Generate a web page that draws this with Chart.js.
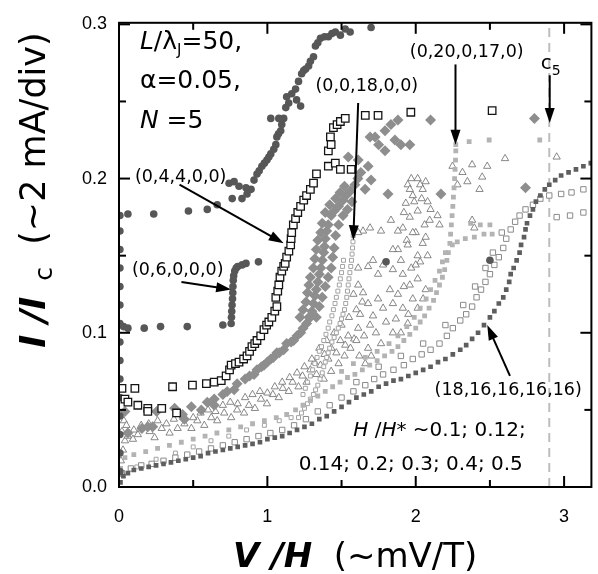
<!DOCTYPE html>
<html>
<head>
<meta charset="utf-8">
<script src="https://cdn.jsdelivr.net/npm/chart.js@4.4.0/dist/chart.umd.min.js"></script>
<style>
    html, body { margin: 0; padding: 0; background: #fff; }
</style>
</head>
<body>
<canvas id="ivChart" width="598" height="574"></canvas>
<script>
// --- Data: [V/H, I/Ic] pairs ---

// dark gray filled circles, incl. (0,6,0,0,0) branch
const darkCircles = [
    [0.006, 0.010], [0.006, 0.022], [0.006, 0.034], [0.006, 0.046], [0.006, 0.058], [0.006, 0.070],
    [0.006, 0.082], [0.006, 0.094], [0.006, 0.106], [0.006, 0.118], [0.006, 0.130], [0.006, 0.142],
    [0.006, 0.154], [0.006, 0.166], [0.006, 0.176],
    [0.03, 0.104], [0.06, 0.103], [0.17, 0.103], [0.28, 0.104], [0.46, 0.104], [0.70, 0.105],
    [0.756, 0.106], [0.758, 0.110], [0.760, 0.114], [0.762, 0.118], [0.765, 0.122], [0.767, 0.126],
    [0.768, 0.130], [0.770, 0.134], [0.773, 0.137], [0.780, 0.140], [0.79, 0.142], [0.80, 0.143],
    [0.83, 0.144], [0.856, 0.145], [0.94, 0.146],
    [0.06, 0.177], [0.234, 0.177], [0.468, 0.179], [0.595, 0.180], [0.662, 0.183],
    [0.742, 0.197], [0.776, 0.198], [0.809, 0.195], [0.856, 0.194], [0.763, 0.187], [0.829, 0.187],
    [0.863, 0.190], [0.89, 0.193], [0.91, 0.199], [0.93, 0.203], [0.945, 0.205], [0.963, 0.208],
    [0.98, 0.210], [0.997, 0.212], [1.01, 0.214], [1.023, 0.216], [1.043, 0.219], [1.057, 0.222],
    [1.064, 0.227], [1.075, 0.229], [1.09, 0.231], [1.097, 0.235], [1.11, 0.239], [1.077, 0.239],
    [1.023, 0.239], [1.124, 0.246], [1.144, 0.249], [1.13, 0.253], [1.164, 0.255], [1.19, 0.258],
    [1.197, 0.251], [1.224, 0.247], [1.21, 0.263], [1.231, 0.268], [1.245, 0.270], [1.258, 0.271],
    [1.278, 0.273], [1.29, 0.276], [1.311, 0.279], [1.324, 0.286], [1.34, 0.288], [1.358, 0.291],
    [1.385, 0.292], [1.411, 0.292], [1.435, 0.294], [1.458, 0.295], [1.525, 0.297], [1.492, 0.293],
    [1.558, 0.295], [1.699, 0.298],
    [1.80, 0.146], [2.50, 0.147]
];

// black open squares, (0,4,4,0,0)
const blackSquares = [
    [0.02, 0.064], [0.04, 0.057], [0.06, 0.055], [0.107, 0.064], [0.127, 0.053], [0.194, 0.051],
    [0.194, 0.049], [0.288, 0.051], [0.388, 0.048], [0.361, 0.065], [0.495, 0.066], [0.589, 0.067],
    [0.642, 0.068], [0.689, 0.069], [0.722, 0.072], [0.745, 0.076], [0.756, 0.079], [0.785, 0.080],
    [0.809, 0.081], [0.84, 0.083], [0.863, 0.085], [0.88, 0.088], [0.896, 0.091], [0.915, 0.093],
    [0.93, 0.095], [0.955, 0.098], [0.977, 0.102], [0.995, 0.105], [1.01, 0.107], [1.03, 0.110],
    [1.05, 0.114], [1.064, 0.117], [1.057, 0.123], [1.07, 0.127], [1.077, 0.131], [1.085, 0.136],
    [1.097, 0.140], [1.11, 0.143], [1.12, 0.145], [1.13, 0.149], [1.145, 0.153], [1.157, 0.157],
    [1.16, 0.161], [1.164, 0.165], [1.175, 0.170], [1.19, 0.174], [1.205, 0.178], [1.224, 0.182],
    [1.245, 0.186], [1.264, 0.189], [1.29, 0.193], [1.311, 0.197], [1.331, 0.203], [1.411, 0.208],
    [1.458, 0.210], [1.492, 0.206], [1.411, 0.218], [1.425, 0.227], [1.43, 0.222], [1.445, 0.233],
    [1.47, 0.235], [1.492, 0.237], [1.525, 0.239], [1.565, 0.206], [1.66, 0.241], [1.746, 0.241],
    [1.967, 0.243], [2.515, 0.244]
];

// medium gray filled diamonds
const grayDiamonds = [
    [0.04, 0.049], [0.06, 0.035], [0.154, 0.038], [0.194, 0.039], [0.227, 0.039], [0.254, 0.049],
    [0.375, 0.051], [0.428, 0.047], [0.441, 0.044], [0.488, 0.052], [0.555, 0.050], [0.595, 0.055],
    [0.642, 0.053], [0.642, 0.057], [0.70, 0.060], [0.729, 0.062], [0.776, 0.063], [0.796, 0.067],
    [0.85, 0.070], [0.88, 0.072], [0.91, 0.073], [0.93, 0.076], [0.96, 0.078], [0.977, 0.079],
    [1.0, 0.081], [1.023, 0.083], [1.04, 0.084], [1.064, 0.087], [1.08, 0.087], [1.11, 0.089],
    [1.13, 0.093], [1.16, 0.094], [1.177, 0.095], [1.20, 0.098], [1.224, 0.100], [1.24, 0.103],
    [1.264, 0.106], [1.28, 0.110], [1.29, 0.110], [1.30, 0.114], [1.31, 0.119], [1.32, 0.124],
    [1.33, 0.128], [1.34, 0.133], [1.35, 0.138], [1.36, 0.142], [1.37, 0.147], [1.38, 0.152],
    [1.385, 0.156], [1.39, 0.161], [1.40, 0.166], [1.41, 0.170], [1.43, 0.176], [1.45, 0.179],
    [1.48, 0.182], [1.51, 0.186], [1.53, 0.189], [1.56, 0.192], [1.59, 0.196], [1.61, 0.200],
    [1.63, 0.204],
    [1.22, 0.110], [1.24, 0.115], [1.26, 0.120], [1.27, 0.126], [1.28, 0.131], [1.29, 0.136],
    [1.31, 0.142], [1.32, 0.148], [1.33, 0.154], [1.34, 0.160], [1.36, 0.165], [1.37, 0.171],
    [1.39, 0.178], [1.42, 0.183], [1.46, 0.187], [1.49, 0.191], [1.52, 0.195],
    [1.33, 0.110], [1.35, 0.117], [1.37, 0.123], [1.39, 0.130], [1.41, 0.136], [1.43, 0.142],
    [1.44, 0.149], [1.45, 0.155], [1.46, 0.163], [1.48, 0.170], [1.51, 0.176], [1.54, 0.180],
    [1.57, 0.185],
    [1.612, 0.212], [1.679, 0.208], [1.699, 0.199], [1.659, 0.193], [1.813, 0.190], [1.545, 0.214],
    [1.726, 0.227], [1.793, 0.231], [1.833, 0.235], [1.88, 0.238], [1.86, 0.225], [1.90, 0.222],
    [1.96, 0.222], [1.793, 0.218], [1.692, 0.227], [1.75, 0.222], [2.10, 0.238], [2.17, 0.190],
    [2.74, 0.194], [2.80, 0.239]
];

// light gray small open squares, (0,0,18,0,0)
const lightSmallSquares = [
    [0.02, 0.008], [0.12, 0.013], [0.25, 0.018], [0.38, 0.022], [0.50, 0.026], [0.62, 0.030],
    [0.74, 0.033], [0.86, 0.037], [0.98, 0.040], [1.08, 0.043], [1.16, 0.045],
    [1.21, 0.045], [1.23, 0.048], [1.25, 0.051], [1.27, 0.054], [1.29, 0.057], [1.31, 0.060],
    [1.325, 0.063], [1.34, 0.066], [1.355, 0.070], [1.37, 0.074], [1.38, 0.078], [1.39, 0.081],
    [1.40, 0.084], [1.41, 0.087], [1.42, 0.090], [1.435, 0.094], [1.45, 0.097], [1.465, 0.100],
    [1.478, 0.103], [1.49, 0.106], [1.50, 0.109], [1.51, 0.112], [1.52, 0.115], [1.528, 0.119],
    [1.535, 0.123], [1.54, 0.127], [1.545, 0.131], [1.55, 0.135], [1.556, 0.139], [1.562, 0.143],
    [1.567, 0.147], [1.571, 0.151], [1.574, 0.155], [1.577, 0.159], [1.579, 0.163],
    [1.24, 0.060], [1.256, 0.064], [1.27, 0.068], [1.29, 0.072], [1.305, 0.076], [1.32, 0.080],
    [1.335, 0.084], [1.35, 0.088], [1.365, 0.091], [1.38, 0.095], [1.395, 0.099], [1.41, 0.103],
    [1.42, 0.107], [1.435, 0.111], [1.445, 0.115], [1.456, 0.119], [1.465, 0.123], [1.475, 0.127],
    [1.485, 0.131], [1.492, 0.135], [1.50, 0.139], [1.507, 0.143], [1.513, 0.147]
];

// open triangles
const openTriangles = [
    [0.013, 0.017], [0.027, 0.024], [0.02, 0.036], [0.033, 0.043], [0.04, 0.030], [0.06, 0.033],
    [0.094, 0.031], [0.127, 0.034], [0.207, 0.036], [0.24, 0.032], [0.288, 0.038], [0.341, 0.035],
    [0.395, 0.038], [0.441, 0.041], [0.488, 0.038], [0.528, 0.043], [0.575, 0.040], [0.622, 0.045],
    [0.662, 0.043], [0.709, 0.048], [0.756, 0.045], [0.796, 0.050], [0.843, 0.048], [0.876, 0.053],
    [0.916, 0.051], [0.957, 0.057], [0.997, 0.054], [1.037, 0.060], [1.077, 0.058], [1.104, 0.064],
    [1.144, 0.062], [1.17, 0.068], [1.21, 0.065], [1.237, 0.072], [1.264, 0.068], [1.29, 0.076],
    [1.331, 0.073], [1.318, 0.081], [1.358, 0.079], [1.385, 0.086], [1.411, 0.083], [1.431, 0.090],
    [1.465, 0.087], [1.492, 0.095], [1.525, 0.092], [1.545, 0.098], [1.585, 0.096],
    [0.05, 0.040], [0.10, 0.037], [0.15, 0.040], [0.20, 0.041], [0.26, 0.043], [0.32, 0.041],
    [0.37, 0.044], [0.43, 0.046], [0.50, 0.045], [0.55, 0.048], [0.60, 0.050], [0.65, 0.049],
    [0.70, 0.053], [0.75, 0.055], [0.80, 0.054], [0.85, 0.058], [0.90, 0.060], [0.95, 0.062],
    [1.00, 0.061], [1.05, 0.065], [1.10, 0.068], [1.15, 0.071], [1.20, 0.074], [1.25, 0.078],
    [1.30, 0.083], [1.35, 0.090], [1.40, 0.095], [1.45, 0.100], [1.50, 0.105], [1.38, 0.070],
    [1.43, 0.075], [1.48, 0.080], [1.52, 0.085], [1.56, 0.090], [1.60, 0.095], [1.62, 0.085],
    [1.66, 0.080], [1.70, 0.085], [1.55, 0.110], [1.60, 0.115], [1.64, 0.120], [1.58, 0.125],
    [1.612, 0.131], [1.645, 0.126], [1.679, 0.119], [1.625, 0.112], [1.712, 0.111], [1.746, 0.122],
    [1.78, 0.116], [1.692, 0.105], [1.732, 0.100], [1.80, 0.107], [1.652, 0.098], [1.612, 0.103],
    [1.846, 0.119], [1.826, 0.128], [1.88, 0.125], [1.746, 0.138], [1.679, 0.143], [1.612, 0.142],
    [1.712, 0.147], [1.78, 0.144], [1.846, 0.141], [1.913, 0.138], [1.96, 0.131], [2.013, 0.135],
    [2.067, 0.128], [1.98, 0.122], [1.913, 0.116], [1.866, 0.109], [2.013, 0.116], [1.946, 0.106],
    [1.846, 0.100], [1.766, 0.093], [1.679, 0.090], [1.90, 0.100], [1.95, 0.112], [2.05, 0.122],
    [1.92, 0.130], [1.97, 0.142], [2.03, 0.146], [2.08, 0.150], [1.90, 0.147], [1.94, 0.160],
    [2.00, 0.165], [2.06, 0.170], [2.10, 0.180], [1.99, 0.185], [2.04, 0.187], [1.92, 0.178],
    [1.97, 0.200], [2.03, 0.196],
    [1.88, 0.154], [1.946, 0.157], [2.013, 0.150], [2.047, 0.158], [1.98, 0.165], [1.913, 0.168],
    [1.96, 0.175], [2.013, 0.179], [1.933, 0.184], [1.98, 0.189], [2.047, 0.193], [1.946, 0.196],
    [2.013, 0.200], [2.067, 0.198], [2.08, 0.185], [2.094, 0.173], [2.067, 0.162], [2.0, 0.144],
    [1.846, 0.154], [1.88, 0.166], [1.833, 0.173], [1.692, 0.168], [1.645, 0.166], [1.766, 0.166],
    [1.612, 0.165], [2.147, 0.176], [2.16, 0.170], [2.38, 0.173], [2.395, 0.168],
    [2.248, 0.208], [2.315, 0.204], [2.38, 0.209], [2.448, 0.201], [2.348, 0.198], [2.281, 0.196],
    [2.482, 0.208], [2.602, 0.213], [2.95, 0.214], [1.96, 0.193], [2.43, 0.193]
];

// light gray filled squares, (0,20,0,17,0)
const lightFilledSquares = [
    [0.01, 0.012], [0.04, 0.019], [0.10, 0.021], [0.18, 0.023], [0.26, 0.025], [0.34, 0.027],
    [0.42, 0.029], [0.50, 0.031], [0.58, 0.033], [0.66, 0.035], [0.74, 0.037], [0.82, 0.039],
    [0.90, 0.041], [0.98, 0.043], [1.06, 0.045], [1.13, 0.047], [1.19, 0.050], [1.24, 0.053],
    [1.29, 0.056], [1.34, 0.059], [1.39, 0.062], [1.44, 0.065], [1.49, 0.068], [1.54, 0.071],
    [1.59, 0.073], [1.64, 0.076], [1.69, 0.079], [1.74, 0.082], [1.79, 0.085], [1.84, 0.088],
    [1.88, 0.091], [1.92, 0.095], [1.96, 0.099], [2.00, 0.103], [2.03, 0.107], [2.06, 0.111],
    [2.09, 0.116], [2.12, 0.121], [2.14, 0.126], [2.16, 0.131], [2.18, 0.136], [2.195, 0.141],
    [2.21, 0.147], [2.22, 0.152], [2.23, 0.158], [2.235, 0.164], [2.24, 0.170], [2.245, 0.176],
    [2.25, 0.182], [2.254, 0.188], [2.258, 0.194], [2.262, 0.200], [2.265, 0.206], [2.268, 0.212],
    [2.27, 0.218], [2.27, 0.222],
    [1.50, 0.075], [1.58, 0.080], [1.66, 0.084], [1.74, 0.088], [1.82, 0.093], [1.88, 0.098],
    [1.94, 0.104], [1.99, 0.110], [2.03, 0.116], [2.07, 0.122], [2.10, 0.128], [2.13, 0.134],
    [2.16, 0.140], [2.18, 0.146], [2.20, 0.152],
    [2.36, 0.224], [2.495, 0.225], [2.836, 0.225],
    [2.247, 0.157], [2.28, 0.159], [2.334, 0.161], [2.395, 0.162], [2.46, 0.164], [2.515, 0.164],
    [2.435, 0.170], [2.50, 0.170], [2.37, 0.171]
];

// light gray open squares
const grayOpenSquares = [
    [0.02, 0.009], [0.08, 0.012], [0.15, 0.014], [0.22, 0.015], [0.30, 0.017], [0.38, 0.019],
    [0.46, 0.021], [0.54, 0.023], [0.62, 0.025], [0.70, 0.027], [0.78, 0.029], [0.86, 0.031],
    [0.94, 0.033], [1.02, 0.035], [1.10, 0.037], [1.18, 0.040], [1.26, 0.044], [1.34, 0.049],
    [1.42, 0.053], [1.50, 0.058], [1.58, 0.062], [1.66, 0.066], [1.72, 0.070], [1.78, 0.073],
    [1.85, 0.076], [1.92, 0.079], [1.98, 0.083], [2.04, 0.086], [2.10, 0.089], [2.16, 0.093],
    [2.21, 0.098], [2.25, 0.103], [2.30, 0.108], [2.34, 0.112], [2.38, 0.117], [2.41, 0.123],
    [2.44, 0.128], [2.47, 0.133], [2.50, 0.138], [2.53, 0.144], [2.56, 0.149], [2.59, 0.155],
    [2.61, 0.161], [2.64, 0.167], [2.67, 0.172], [2.70, 0.176], [2.74, 0.180], [2.79, 0.183],
    [2.84, 0.187], [2.90, 0.189], [2.98, 0.190], [3.05, 0.191], [3.13, 0.193],
    [1.60, 0.068], [1.75, 0.078], [1.90, 0.085], [2.05, 0.093], [2.20, 0.105], [2.32, 0.118],
    [2.40, 0.130], [2.47, 0.142], [2.52, 0.152], [2.58, 0.165], [2.95, 0.175], [3.04, 0.176],
    [3.13, 0.178]
];

// dark gray filled squares, (18,16,16,16,16)
const darkSquares = [
    [0.01, 0.003], [0.03, 0.007], [0.06, 0.009], [0.10, 0.011], [0.15, 0.012], [0.20, 0.013],
    [0.25, 0.014], [0.30, 0.015], [0.35, 0.016], [0.40, 0.017], [0.45, 0.018], [0.50, 0.019],
    [0.55, 0.020], [0.60, 0.022], [0.65, 0.023], [0.70, 0.024], [0.75, 0.025], [0.80, 0.026],
    [0.85, 0.027], [0.90, 0.028], [0.95, 0.029], [1.00, 0.031], [1.05, 0.032], [1.10, 0.033],
    [1.15, 0.035], [1.20, 0.037], [1.25, 0.039], [1.30, 0.041], [1.35, 0.044], [1.40, 0.046],
    [1.45, 0.049], [1.50, 0.052], [1.55, 0.055], [1.60, 0.058], [1.65, 0.060], [1.70, 0.062],
    [1.75, 0.065], [1.80, 0.067], [1.85, 0.069], [1.90, 0.070], [1.95, 0.072], [2.00, 0.074],
    [2.05, 0.076], [2.10, 0.078], [2.15, 0.081], [2.20, 0.083], [2.25, 0.086], [2.30, 0.089],
    [2.34, 0.092], [2.38, 0.096], [2.42, 0.100], [2.46, 0.105], [2.50, 0.110], [2.53, 0.114],
    [2.56, 0.119], [2.59, 0.123], [2.61, 0.128], [2.63, 0.133], [2.64, 0.138], [2.66, 0.142],
    [2.68, 0.147], [2.70, 0.152], [2.71, 0.157], [2.73, 0.162], [2.74, 0.167], [2.75, 0.171],
    [2.77, 0.176], [2.79, 0.180], [2.81, 0.185], [2.84, 0.189], [2.87, 0.193], [2.90, 0.196],
    [2.94, 0.199], [2.98, 0.202], [3.03, 0.204], [3.08, 0.206], [3.13, 0.208], [3.18, 0.210]
];

const xTicksMajor = [0, 1, 2, 3];
const xTicksMinor = [0.5, 1.5, 2.5];
const yTicksMajor = [0, 0.1, 0.2, 0.3];
const yTicksMinor = [0.05, 0.15, 0.25];
const c5Position = 2.90;

// --- helpers ---
const toPts = arr => arr.map(p => ({ x: p[0], y: p[1] }));

function drawRuns(ctx, x, y, runs) {
    let cx = x;
    runs.forEach(r => {
        ctx.font = r.font;
        ctx.fillText(r.t, cx, y + (r.dy || 0));
        cx += ctx.measureText(r.t).width;
    });
}

function runsWidth(ctx, runs) {
    return runs.reduce((w, r) => { ctx.font = r.font; return w + ctx.measureText(r.t).width; }, 0);
}

function arrow(ctx, x1, y1, x2, y2) {
    const a = Math.atan2(y2 - y1, x2 - x1);
    ctx.beginPath();
    ctx.moveTo(x1, y1);
    ctx.lineTo(x2 - 10 * Math.cos(a), y2 - 10 * Math.sin(a));
    ctx.stroke();
    ctx.beginPath();
    ctx.moveTo(x2, y2);
    ctx.lineTo(x2 - 15 * Math.cos(a) + 5 * Math.sin(a), y2 - 15 * Math.sin(a) - 5 * Math.cos(a));
    ctx.lineTo(x2 - 15 * Math.cos(a) - 5 * Math.sin(a), y2 - 15 * Math.sin(a) + 5 * Math.cos(a));
    ctx.closePath();
    ctx.fill();
}

const SANS = '"DejaVu Sans", sans-serif';

// --- plugin: frame, inward ticks, c5 line, annotations, axis titles ---
const figureDecor = {
    id: 'figureDecor',
    beforeDatasetsDraw(chart) {
        const { ctx, chartArea: a, scales: { x } } = chart;
        const px = x.getPixelForValue(c5Position);
        ctx.save();
        ctx.strokeStyle = '#bdbdbd';
        ctx.lineWidth = 2;
        ctx.setLineDash([9, 6]);
        ctx.beginPath();
        ctx.moveTo(px, a.bottom);
        ctx.lineTo(px, a.top);
        ctx.stroke();
        ctx.restore();
    },
    afterDatasetsDraw(chart) {
        const { ctx, chartArea: a, scales: { x, y } } = chart;
        const X = v => x.getPixelForValue(v);
        const Y = v => y.getPixelForValue(v);
        ctx.save();
        ctx.strokeStyle = '#000';
        ctx.fillStyle = '#000';
        ctx.lineWidth = 2;
        ctx.strokeRect(a.left, a.top, a.right - a.left, a.bottom - a.top);

        const tick = (x1, y1, x2, y2) => { ctx.beginPath(); ctx.moveTo(x1, y1); ctx.lineTo(x2, y2); ctx.stroke(); };
        xTicksMajor.forEach(v => { tick(X(v), a.bottom, X(v), a.bottom - 11); tick(X(v), a.top, X(v), a.top + 11); });
        xTicksMinor.forEach(v => { tick(X(v), a.bottom, X(v), a.bottom - 7); tick(X(v), a.top, X(v), a.top + 7); });
        yTicksMajor.forEach(v => { tick(a.left, Y(v), a.left + 11, Y(v)); tick(a.right, Y(v), a.right - 11, Y(v)); });
        yTicksMinor.forEach(v => { tick(a.left, Y(v), a.left + 7, Y(v)); tick(a.right, Y(v), a.right - 7, Y(v)); });

        // arrows
        arrow(ctx, X(0.408), Y(0.196), X(1.11), Y(0.158));
        arrow(ctx, X(0.421), Y(0.133), X(0.756), Y(0.128));
        arrow(ctx, X(1.612), Y(0.249), X(1.579), Y(0.160));
        arrow(ctx, X(2.268), Y(0.274), X(2.268), Y(0.222));
        arrow(ctx, X(2.903), Y(0.267), X(2.903), Y(0.236));
        arrow(ctx, X(2.635), Y(0.072), X(2.482), Y(0.105));

        // annotations
        ctx.textBaseline = 'alphabetic';
        ctx.textAlign = 'left';
        const big = '25px ' + SANS, bigIt = 'italic 25px ' + SANS;
        drawRuns(ctx, X(0.141), Y(0.2838), [
            { t: 'L', font: bigIt }, { t: '/λ', font: big },
            { t: 'J', font: '15px ' + SANS, dy: 6 }, { t: '=50,', font: big }
        ]);
        drawRuns(ctx, X(0.141), Y(0.2584), [{ t: 'α=0.05,', font: big }]);
        drawRuns(ctx, X(0.141), Y(0.2330), [{ t: 'N', font: bigIt }, { t: ' =5', font: big }]);

        const lab = '17.5px ' + SANS;
        drawRuns(ctx, X(0.107), Y(0.1975), [{ t: '(0,4,4,0,0)', font: lab }]);
        drawRuns(ctx, X(0.087), Y(0.1375), [{ t: '(0,6,0,0,0)', font: lab }]);
        drawRuns(ctx, X(1.324), Y(0.2565), [{ t: '(0,0,18,0,0)', font: lab }]);
        drawRuns(ctx, X(1.96), Y(0.2787), [{ t: '(0,20,0,17,0)', font: lab }]);
        drawRuns(ctx, X(2.127), Y(0.0597), [{ t: '(18,16,16,16,16)', font: lab }]);
        drawRuns(ctx, X(2.843), Y(0.2711), [
            { t: 'c', font: '20px ' + SANS }, { t: '5', font: '14px ' + SANS, dy: 6 }
        ]);
        const note = '20px ' + SANS, noteIt = 'italic 20px ' + SANS;
        drawRuns(ctx, X(1.579), Y(0.0330), [
            { t: 'H', font: noteIt }, { t: ' /', font: note }, { t: 'H*', font: noteIt },
            { t: ' ~0.1; 0.12;', font: note }
        ]);
        drawRuns(ctx, X(1.211), Y(0.0108), [{ t: '0.14; 0.2; 0.3; 0.4; 0.5', font: note }]);
        ctx.restore();
    },
    afterDraw(chart) {
        const { ctx, chartArea: a } = chart;
        ctx.save();
        ctx.fillStyle = '#000';
        ctx.textBaseline = 'alphabetic';
        ctx.textAlign = 'left';
        const bi = 'bold italic 34px ' + SANS, rg = '34px ' + SANS;

        const xRuns = [{ t: 'V /H', font: bi }, { t: '  (~mV/T)', font: rg }];
        const xw = runsWidth(ctx, xRuns);
        drawRuns(ctx, (a.left + a.right) / 2 - xw / 2, 567, xRuns);

        const yb = 'bold italic 35px ' + SANS, yr = '35px ' + SANS;
        const yRuns = [
            { t: 'I /I', font: yb }, { t: '  c', font: '25px ' + SANS, dy: 7 },
            { t: '  (~2 mA/div)', font: yr }
        ];
        const yw = runsWidth(ctx, yRuns);
        ctx.translate(45, 190);
        ctx.rotate(-Math.PI / 2);
        drawRuns(ctx, -yw / 2, 0, yRuns);
        ctx.restore();
    }
};

function series(data, style) {
    return Object.assign({ data: toPts(data), showLine: false, pointHoverRadius: 0 }, style);
}

document.addEventListener('DOMContentLoaded', function () {
    const ctx = document.getElementById('ivChart').getContext('2d');
    new Chart(ctx, {
        type: 'scatter',
        data: {
            datasets: [
                series(blackSquares, { pointStyle: 'rect', pointRadius: 5.3, backgroundColor: '#fff', borderColor: '#151515', borderWidth: 1.3 }),
                series(darkCircles, { pointStyle: 'circle', pointRadius: 3.8, backgroundColor: '#575757', borderWidth: 0 }),
                series(darkSquares, { pointStyle: 'rect', pointRadius: 3.3, backgroundColor: '#5e5e5e', borderWidth: 0 }),
                series(grayOpenSquares, { pointStyle: 'rect', pointRadius: 3.8, backgroundColor: '#fff', borderColor: '#8a8a8a', borderWidth: 1 }),
                series(lightFilledSquares, { pointStyle: 'rect', pointRadius: 3.4, backgroundColor: '#b3b3b3', borderWidth: 0 }),
                series(lightSmallSquares, { pointStyle: 'rect', pointRadius: 2.8, backgroundColor: '#fff', borderColor: '#a3a3a3', borderWidth: 1 }),
                series(grayDiamonds, { pointStyle: 'rectRot', pointRadius: 5.5, backgroundColor: '#8e8e8e', borderWidth: 0 }),
                series(openTriangles, { pointStyle: 'triangle', pointRadius: 4.2, backgroundColor: '#fff', borderColor: '#6a6a6a', borderWidth: 0.8 })
            ]
        },
        options: {
            responsive: false,
            animation: false,
            events: [],
            layout: { padding: { top: 13, right: 2, left: 0, bottom: 0 } },
            plugins: { legend: { display: false }, tooltip: { enabled: false } },
            scales: {
                x: {
                    type: 'linear', min: 0, max: 3.184,
                    grid: { display: false, drawTicks: false },
                    border: { display: false },
                    ticks: {
                        stepSize: 1, includeBounds: false, autoSkip: false, maxRotation: 0,
                        padding: 19, color: '#000',
                        font: { family: 'Liberation Sans', size: 18 },
                        callback: v => String(v)
                    },
                    afterFit: s => { s.height = 87; }
                },
                y: {
                    type: 'linear', min: 0, max: 0.301,
                    grid: { display: false, drawTicks: false },
                    border: { display: false },
                    ticks: {
                        stepSize: 0.1, includeBounds: false, autoSkip: false,
                        padding: 12, color: '#000',
                        font: { family: 'Liberation Sans', size: 18 },
                        callback: v => v.toFixed(1)
                    },
                    afterFit: s => { s.width = 119; }
                }
            }
        },
        plugins: [figureDecor]
    });
});
</script>
</body>
</html>
